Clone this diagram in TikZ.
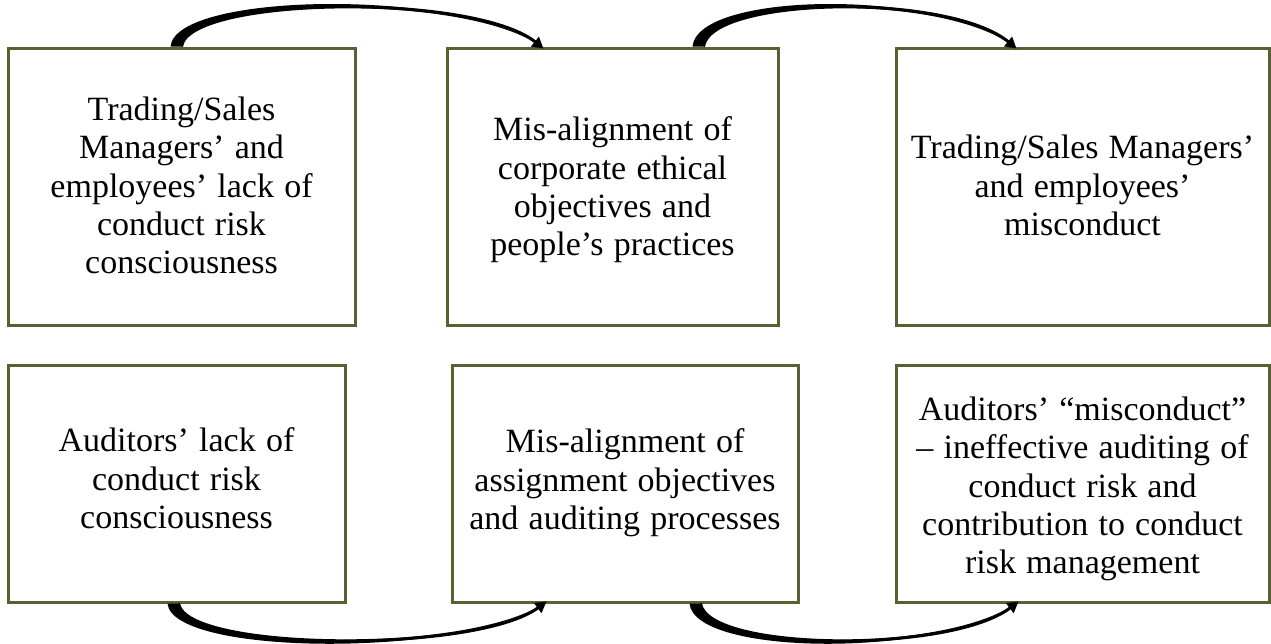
\documentclass[tikz,border=0pt]{standalone}
\usepackage{fontspec}
\setmainfont{Liberation Serif}
\usetikzlibrary{arrows.meta}
\definecolor{boxolive}{RGB}{87,98,50}
\newcommand{\boxfont}{\fontsize{34}{38.3}\selectfont\spaceskip=0.3em plus 0.1em\relax}
\newcommand{\boxtext}[2]{\raisebox{#1}[\height][\depth]{\begin{tabular}{@{}c@{}}#2\end{tabular}}}
\tikzset{
  box/.style={draw=boxolive, line width=3pt, fill=white, align=center, inner sep=0pt,
    font=\boxfont},
  curvearrow/.style={line width=3pt, -{Triangle[length=11pt,width=12pt]}},
}
\begin{document}
\begin{tikzpicture}[x=1pt,y=-1pt]
\useasboundingbox[fill=white] (0,0) rectangle (1271,643);
\node[box, minimum width=347pt, minimum height=277pt] (b1) at (181.5,186.5)
  {\boxtext{-3pt}{Trading/Sales\\Managers’ and\\employees’ lack of\\conduct risk\\consciousness}};
\node[box, minimum width=331pt, minimum height=277pt] (b2) at (612.5,186.5)
  {\boxtext{-4pt}{Mis-alignment of\\corporate ethical\\objectives and\\people’s practices}};
\node[box, minimum width=373pt, minimum height=277pt] (b3) at (1082.5,186.5)
  {\boxtext{-3pt}{Trading/Sales Managers’\\and employees’\\misconduct}};
\node[box, minimum width=337pt, minimum height=237pt] (b4) at (176.5,483.5)
  {\boxtext{1pt}{Auditors’ lack of\\conduct risk\\consciousness}};
\node[box, minimum width=346pt, minimum height=237pt] (b5) at (625,483.5)
  {\boxtext{0pt}{Mis-alignment of\\assignment objectives\\and auditing processes}};
\node[box, minimum width=373pt, minimum height=237pt] (b6) at (1082.5,483.5)
  {\boxtext{-6pt}{Auditors’ “misconduct”\\– ineffective auditing of\\conduct risk and\\contribution to conduct\\risk management}};

% top arrows
\coordinate (s1) at ([xshift=175pt]b1.north west);
\coordinate (e1) at ([xshift=98pt,yshift=-2pt]b2.north west);
\fill ([xshift=-11pt]s1) .. controls +(5,-56) and +(-72,-60) .. (e1)
      .. controls +(-70,-56) and +(7,-50) .. (s1) -- cycle;
\draw[curvearrow] (s1) .. controls +(7,-50) and +(-70,-56) .. (e1);

\coordinate (s2) at ([xshift=258pt]b2.north west);
\coordinate (e2) at ([xshift=122pt,yshift=-2pt]b3.north west);
\fill ([xshift=-11pt]s2) .. controls +(5,-56) and +(-70,-60) .. (e2)
      .. controls +(-68,-56) and +(7,-50) .. (s2) -- cycle;
\draw[curvearrow] (s2) .. controls +(7,-50) and +(-68,-56) .. (e2);

% bottom arrows
\coordinate (s3) at ([xshift=172pt]b4.south west);
\coordinate (e3) at ([xshift=96pt,yshift=2pt]b5.south west);
\fill ([xshift=-11pt]s3) .. controls +(5,54) and +(-72,56) .. (e3)
      .. controls +(-70,52) and +(7,48) .. (s3) -- cycle;
\draw[curvearrow] (s3) .. controls +(7,48) and +(-70,52) .. (e3);

\coordinate (s4) at ([xshift=250pt]b5.south west);
\coordinate (e4) at ([xshift=124pt,yshift=2pt]b6.south west);
\fill ([xshift=-11pt]s4) .. controls +(5,54) and +(-70,56) .. (e4)
      .. controls +(-68,52) and +(7,48) .. (s4) -- cycle;
\draw[curvearrow] (s4) .. controls +(7,48) and +(-68,52) .. (e4);
\end{tikzpicture}
\end{document}
